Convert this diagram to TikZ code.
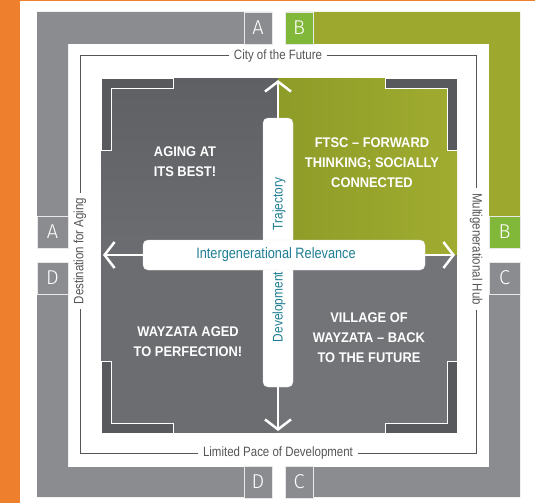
\documentclass[tikz,border=0pt]{standalone}
\usepackage{fontspec}
\setmainfont{Liberation Sans}
\newfontfamily\condfont{Liberation Sans}[FakeStretch=0.85]
\newfontfamily\headfont{Liberation Sans}[FakeStretch=0.92]
\newfontfamily\letterfont{Fira Sans Light}
\usetikzlibrary{arrows.meta}

\definecolor{orangebar}{HTML}{EE7F2D}
\definecolor{bandgrey}{HTML}{8A8C8F}
\definecolor{bandolive}{HTML}{9DA82E}
\definecolor{limebox}{HTML}{82B83A}
\definecolor{quaddark}{HTML}{5E6064}
\definecolor{quadmid}{HTML}{6B6D70}
\definecolor{quadolivel}{HTML}{8E9C28}
\definecolor{quadoliver}{HTML}{A0AC30}
\definecolor{bracketc}{HTML}{58595C}
\definecolor{lineg}{HTML}{555555}
\definecolor{tealtxt}{HTML}{1E7E93}

\tikzset{
  lbox/.style={draw=white!80!bandgrey, line width=0.7pt, inner sep=0pt, text=white,
    font=\letterfont\fontsize{20}{20}\selectfont},
  hbox/.style={lbox, minimum width=28pt, minimum height=32pt},
  vbox/.style={lbox, minimum width=31pt, minimum height=32pt},
  framelbl/.style={fill=white, inner xsep=5pt, inner ysep=1pt, text=lineg,
    font=\condfont\fontsize{13.5}{14}\selectfont},
  quadtitle/.style={align=center, text=white, font=\headfont\bfseries\fontsize{14}{20}\selectfont},
  bracket/.style={fill=bracketc, draw=white, line width=1pt},
  relarrow/.style={draw=white, line width=2.5pt, -{Straight Barb[length=10pt,width=26pt]}},
  bar/.style={fill=white, draw=black!12, rounded corners=5pt, inner sep=0pt},
  bartext/.style={text=tealtxt, font=\condfont\fontsize{14}{14}\selectfont}
}

\begin{document}
\begin{tikzpicture}[x=1pt,y=-1pt]
\useasboundingbox (0,0) rectangle (535,503);
\fill[orangebar] (0,0) rectangle (20,503);
\fill[orangebar] (0,0) rectangle (535,1.5);

% outer corner bands
\fill[bandgrey] (37,12) -- (272,12) -- (272,44) -- (68,44) -- (68,248) -- (37,248) -- cycle;
\fill[bandolive] (285,12) -- (520,12) -- (520,248) -- (489,248) -- (489,44) -- (285,44) -- cycle;
\fill[bandgrey] (520,262) -- (520,497) -- (285,497) -- (285,467) -- (489,467) -- (489,262) -- cycle;
\fill[bandgrey] (37,262) -- (68,262) -- (68,467) -- (272,467) -- (272,497) -- (37,497) -- cycle;

\node[hbox, fill=bandgrey] (atop) at (258,28) {A};
\node[vbox, fill=bandgrey] (aleft) at (52.5,232) {A};
\node[hbox, fill=limebox] (btop) at (299,28) {B};
\node[vbox, fill=limebox] (bright) at (504.5,232) {B};
\node[vbox, fill=bandgrey] (cright) at (504.5,278) {C};
\node[hbox, fill=bandgrey] (cbot) at (299,482) {C};
\node[hbox, fill=bandgrey] (dbot) at (258,482) {D};
\node[vbox, fill=bandgrey] (dleft) at (52.5,278) {D};

% thin frame and its labels
\draw[lineg, line width=1pt] (80,56) rectangle (476,453);
\node[framelbl] (cityfut) at (278,56) {City of the Future};
\node[framelbl] (limpace) at (278,453) {Limited Pace of Development};
\node[framelbl, rotate=90] (destaging) at (80,251) {Destination for Aging};
\node[framelbl, rotate=-90] (multihub) at (476,249) {Multigenerational Hub};

% quadrants
\shade[top color=quaddark, bottom color=quadmid] (101,78) rectangle (278,255);
\shade[left color=quadolivel, right color=quadoliver] (278,78) rectangle (457,255);
\fill[quadmid] (101,255) rectangle (278,433);
\fill[quadmid!95!white] (278,255) rectangle (457,433);

\draw[bracket] (101,78) -- (173,78) -- (173,88) -- (111,88) -- (111,150) -- (101,150) -- cycle;
\draw[bracket] (457,78) -- (385,78) -- (385,88) -- (447,88) -- (447,150) -- (457,150) -- cycle;
\draw[bracket] (101,433) -- (173,433) -- (173,423) -- (111,423) -- (111,361) -- (101,361) -- cycle;
\draw[bracket] (457,433) -- (385,433) -- (385,423) -- (447,423) -- (447,361) -- (457,361) -- cycle;

% axes
\node[bar, minimum width=30pt, minimum height=269pt] (vbar) at (278,252.5) {};
\node[bar, minimum width=282pt, minimum height=30pt] (hbar) at (284,255) {};
\coordinate (tiptop) at (278,80);
\coordinate (tipbot) at (278,431);
\coordinate (tipleft) at (103,255);
\coordinate (tipright) at (455,255);
\draw[relarrow] (vbar.north) -- (tiptop);
\draw[relarrow] (vbar.south) -- (tipbot);
\draw[relarrow] (hbar.west) -- (tipleft);
\draw[relarrow] (hbar.east) -- (tipright);

\node[bartext, font=\condfont\fontsize{15}{15}\selectfont] (relev) at (276,255) {Intergenerational Relevance};
\node[bartext, rotate=90] (traj) at (279,204) {Trajectory};
\node[bartext, rotate=90] (devel) at (279,307) {Development};

\node[quadtitle] (agingbest) at (185,162) {AGING AT\\ITS BEST!};
\node[quadtitle] (ftsc) at (372,163) {FTSC – FORWARD\\THINKING; SOCIALLY\\CONNECTED};
\node[quadtitle] (wayzaged) at (188,342) {WAYZATA AGED\\TO PERFECTION!};
\node[quadtitle] (village) at (369,338) {VILLAGE OF\\WAYZATA – BACK\\TO THE FUTURE};
\end{tikzpicture}
\end{document}
